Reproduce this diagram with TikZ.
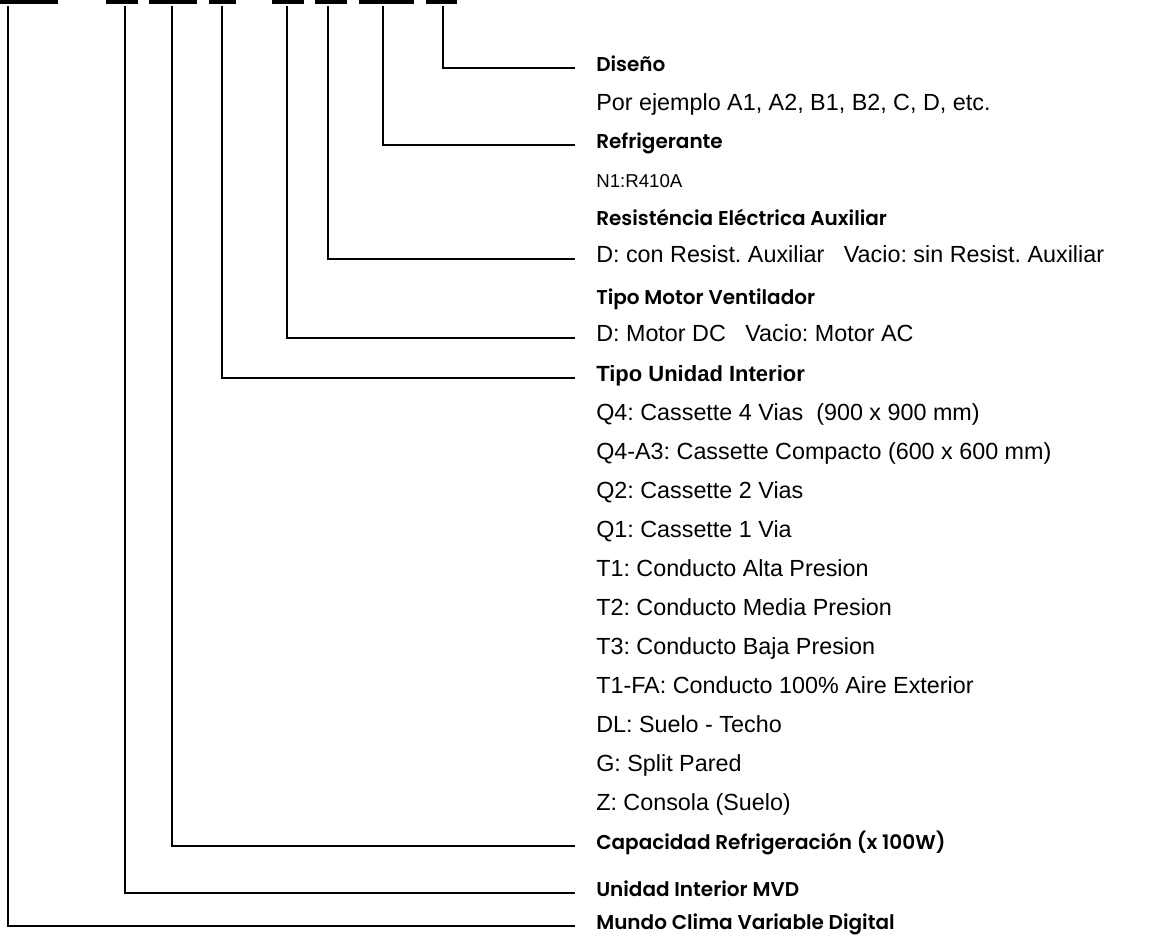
\documentclass[tikz,border=0pt]{standalone}
\usepackage{fontspec}
\setmainfont{Liberation Sans}
\newfontfamily\headfont{Poppins}[BoldFont={* SemiBold}]
\frenchspacing

\tikzset{
  head/.style={anchor=mid west, inner sep=0pt, font=\headfont\bfseries\fontsize{15}{17}\selectfont},
  boldhead/.style={anchor=mid west, inner sep=0pt, font=\bfseries\fontsize{16.5}{18}\selectfont},
  item/.style={anchor=mid west, inner sep=0pt, font=\fontsize{17.5}{19}\selectfont},
  small/.style={anchor=mid west, inner sep=0pt, font=\fontsize{14}{16}\selectfont},
  lead/.style={line width=1.2pt, shorten >=15.5pt},
}

\begin{document}
\begin{tikzpicture}[x=0.75pt, y=-0.75pt]

  \useasboundingbox (0,0) rectangle (1153,937);

  % Code boxes (cut at the top)
  \foreach \a/\b in {0/58, 106/138, 149/197, 209/236, 272/304, 315/347, 359/414, 426/457} {
    \fill (\a,0) rectangle (\b,4);
  }

  % Line starts under the boxes
  \coordinate (t1) at (8,6);
  \coordinate (t2) at (125,6);
  \coordinate (t3) at (172,6);
  \coordinate (t4) at (222,6);
  \coordinate (t5) at (287,6);
  \coordinate (t6) at (328,6);
  \coordinate (t7) at (383,6);
  \coordinate (t8) at (443,6);

  % Headings and values
  \node[head] (dis) at (596,68) {Diseño};
  \node[item] (por) at (596,107) {Por ejemplo A1, A2, B1, B2, C, D, etc.};
  \node[head] (ref) at (596,145) {Refrigerante};
  \node[small] (n1) at (596,184) {N1:R410A};
  \node[head] (res) at (596,222) {Resisténcia Eléctrica Auxiliar};
  \node[item] (dcon) at (596,259) {D: con Resist. Auxiliar\ \ \ Vacio: sin Resist. Auxiliar};
  \node[head] (mot) at (596,301) {Tipo Motor Ventilador};
  \node[item] (dmot) at (596,338) {D: Motor DC\ \ \ Vacio: Motor AC};
  \node[boldhead] (tu) at (596,378) {Tipo Unidad Interior};

  % Indoor unit types
  \foreach \txt [count=\i from 0] in {Q4: Cassette 4 Vias\ \ (900 x 900 mm),
      Q4-A3: Cassette Compacto (600 x 600 mm), Q2: Cassette 2 Vias, Q1: Cassette 1 Via,
      T1: Conducto Alta Presion, T2: Conducto Media Presion, T3: Conducto Baja Presion,
      T1-FA: Conducto 100\% Aire Exterior, DL: Suelo - Techo, G: Split Pared,
      Z: Consola (Suelo)} {
    \node[item] (it\i) at (596,417+39*\i) {\txt};
  }

  \node[head] (cap) at (596,846) {Capacidad Refrigeración (x 100W)};
  \node[head] (unid) at (596,893) {Unidad Interior MVD};
  \node[head] (mundo) at (596,926) {Mundo Clima Variable Digital};

  % Leaders
  \draw[lead] (t8) |- (dis.mid west);
  \draw[lead] (t7) |- (ref.mid west);
  \draw[lead] (t6) |- (dcon.mid west);
  \draw[lead] (t5) |- (dmot.mid west);
  \draw[lead] (t4) |- (tu.mid west);
  \draw[lead] (t3) |- (cap.mid west);
  \draw[lead] (t2) |- (unid.mid west);
  \draw[lead] (t1) |- (mundo.mid west);

\end{tikzpicture}
\end{document}
